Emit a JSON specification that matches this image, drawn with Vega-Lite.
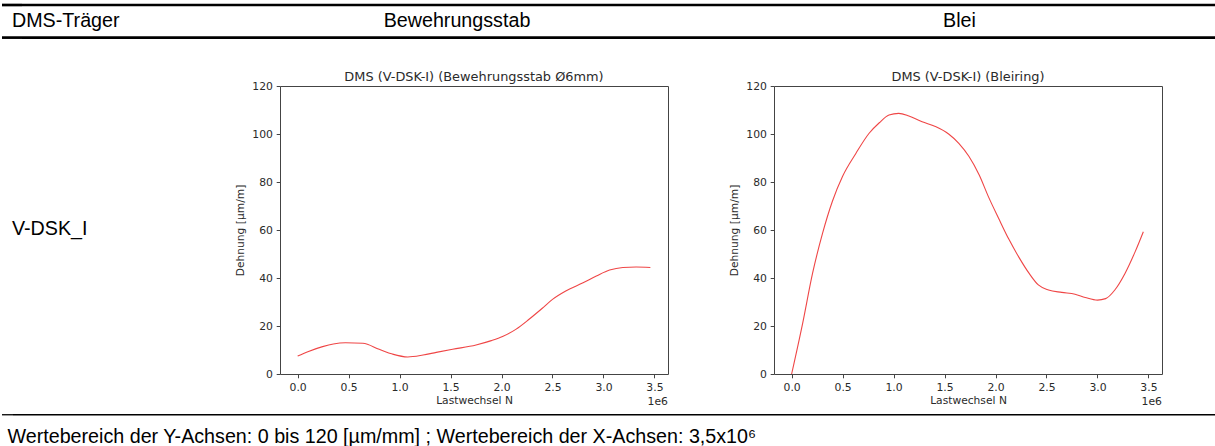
{
  "$schema": "https://vega.github.io/schema/vega-lite/v6.json",
  "padding": {"top": 3, "left": 0, "right": 0, "bottom": 0},
  "background": "white",
  "config": {
    "view": {"stroke": null},
    "axis": {"grid": false, "domain": false, "labelFont": "DejaVu Sans", "titleFont": "DejaVu Sans", "labelFontSize": 10.8, "titleFontSize": 10.7, "titleFontWeight": "normal", "labelColor": "#2a2a2a", "titleColor": "#2a2a2a", "tickColor": "#444444", "tickSize": 3.8, "labelPadding": 3.8, "labelFlush": false, "labelOverlap": false},
    "text": {"font": "Liberation Sans", "fontSize": 19.7, "color": "black"},
    "rule": {"color": "black"}
  },
  "datasets": {
    "linien": [{"linie": "oben"}, {"linie": "unten"}],
    "fusslinie": [{"linie": "oben"}],
    "bewehrung": [
      {"N": 0, "Dehnung": 7.5}, {"N": 100000, "Dehnung": 9.3}, {"N": 245000, "Dehnung": 11.4}, {"N": 350000, "Dehnung": 12.5},
      {"N": 470000, "Dehnung": 13.0}, {"N": 640000, "Dehnung": 12.8}, {"N": 800000, "Dehnung": 10.3}, {"N": 930000, "Dehnung": 8.3},
      {"N": 1080000, "Dehnung": 7.1}, {"N": 1230000, "Dehnung": 7.9}, {"N": 1360000, "Dehnung": 9.0}, {"N": 1520000, "Dehnung": 10.3},
      {"N": 1750000, "Dehnung": 12.1}, {"N": 1900000, "Dehnung": 13.9}, {"N": 2010000, "Dehnung": 15.6}, {"N": 2140000, "Dehnung": 18.6},
      {"N": 2270000, "Dehnung": 22.8}, {"N": 2400000, "Dehnung": 27.4}, {"N": 2500000, "Dehnung": 31.1}, {"N": 2630000, "Dehnung": 34.6},
      {"N": 2800000, "Dehnung": 38.0}, {"N": 2930000, "Dehnung": 40.8}, {"N": 3060000, "Dehnung": 43.3}, {"N": 3190000, "Dehnung": 44.4},
      {"N": 3320000, "Dehnung": 44.6}, {"N": 3460000, "Dehnung": 44.4}
    ],
    "blei": [
      {"N": 0, "Dehnung": 0}, {"N": 108000, "Dehnung": 21.1}, {"N": 205000, "Dehnung": 41.9}, {"N": 303000, "Dehnung": 58.6},
      {"N": 400000, "Dehnung": 72.0}, {"N": 500000, "Dehnung": 82.4}, {"N": 630000, "Dehnung": 91.9}, {"N": 760000, "Dehnung": 100.3},
      {"N": 860000, "Dehnung": 104.7}, {"N": 955000, "Dehnung": 107.9}, {"N": 1050000, "Dehnung": 108.6}, {"N": 1150000, "Dehnung": 107.5},
      {"N": 1280000, "Dehnung": 105.1}, {"N": 1410000, "Dehnung": 103.1}, {"N": 1540000, "Dehnung": 100.0}, {"N": 1640000, "Dehnung": 96.1},
      {"N": 1740000, "Dehnung": 90.6}, {"N": 1840000, "Dehnung": 82.9}, {"N": 1930000, "Dehnung": 73.9}, {"N": 2030000, "Dehnung": 64.9},
      {"N": 2130000, "Dehnung": 56.2}, {"N": 2230000, "Dehnung": 48.6}, {"N": 2330000, "Dehnung": 41.9}, {"N": 2420000, "Dehnung": 37.1},
      {"N": 2520000, "Dehnung": 35.0}, {"N": 2650000, "Dehnung": 34.0}, {"N": 2780000, "Dehnung": 33.2}, {"N": 2880000, "Dehnung": 31.9},
      {"N": 3000000, "Dehnung": 30.8}, {"N": 3080000, "Dehnung": 31.4}, {"N": 3170000, "Dehnung": 35.0}, {"N": 3270000, "Dehnung": 41.9},
      {"N": 3370000, "Dehnung": 51.0}, {"N": 3450000, "Dehnung": 59.3}
    ]
  },
  "spacing": 31,
  "vconcat": [
    {
      "spacing": 0,
      "bounds": "flush",
      "hconcat": [
        {"width": 20, "height": 32.6, "layer": [
          {"data": {"name": "linien"}, "mark": {"type": "rule", "strokeWidth": 2.7}, "encoding": {"y": {"field": "linie", "type": "nominal", "scale": {"type": "point", "padding": 0, "domain": ["oben", "unten"]}, "axis": null}}},
          {"data": {"values": [{"spalte": "DMS-Träger"}]}, "mark": {"type": "text", "align": "left"}, "encoding": {"text": {"field": "spalte"}}}
        ]},
        {"width": 870, "height": 32.6, "layer": [
          {"data": {"name": "linien"}, "mark": {"type": "rule", "strokeWidth": 2.7}, "encoding": {"y": {"field": "linie", "type": "nominal", "scale": {"type": "point", "padding": 0, "domain": ["oben", "unten"]}, "axis": null}}},
          {"data": {"values": [{"spalte": "Bewehrungsstab"}]}, "mark": {"type": "text"}, "encoding": {"text": {"field": "spalte"}}}
        ]},
        {"width": 135, "height": 32.6, "layer": [
          {"data": {"name": "linien"}, "mark": {"type": "rule", "strokeWidth": 2.7}, "encoding": {"y": {"field": "linie", "type": "nominal", "scale": {"type": "point", "padding": 0, "domain": ["oben", "unten"]}, "axis": null}}},
          {"data": {"values": [{"spalte": "Blei"}]}, "mark": {"type": "text"}, "encoding": {"text": {"field": "spalte"}}}
        ]},
        {"width": 190, "height": 32.6, "layer": [
          {"data": {"name": "linien"}, "mark": {"type": "rule", "strokeWidth": 2.7}, "encoding": {"y": {"field": "linie", "type": "nominal", "scale": {"type": "point", "padding": 0, "domain": ["oben", "unten"]}, "axis": null}}}
        ]}
      ]
    },
    {
      "spacing": 5.75,
      "vconcat": [
        {
          "spacing": 106,
          "bounds": "flush",
          "hconcat": [
            {"width": 20, "height": 285, "data": {"values": [{"traeger": "V-DSK_I"}]}, "mark": {"type": "text", "align": "left"}, "encoding": {"text": {"field": "traeger"}}},
            {"width": 46, "height": 285, "data": {"values": []}, "mark": "point"},
            {
              "width": 388, "height": 288,
              "view": {"stroke": "#444444", "strokeWidth": 1},
              "title": {"text": "DMS (V-DSK-I) (Bewehrungsstab Ø6mm)", "font": "DejaVu Sans", "fontSize": 12.9, "fontWeight": "normal", "color": "#2a2a2a", "offset": -13.5, "baseline": "alphabetic", "anchor": "middle"},
              "layer": [
                {
                  "data": {"name": "bewehrung"},
                  "mark": {"type": "line", "color": "#ef4646", "strokeWidth": 1.1, "interpolate": "monotone"},
                  "encoding": {
                    "x": {"field": "N", "type": "quantitative", "scale": {"domain": [-173000, 3633000], "nice": false, "zero": false}, "axis": {"title": "Lastwechsel N", "values": [0, 500000, 1000000, 1500000, 2000000, 2500000, 3000000, 3500000], "labelExpr": "format(datum.value / 1000000, '.1f')", "titlePadding": 3.5}},
                    "y": {"field": "Dehnung", "type": "quantitative", "scale": {"domain": [0, 120], "nice": false}, "axis": {"title": "Dehnung [µm/m]", "values": [0, 20, 40, 60, 80, 100, 120], "titlePadding": 6.5}}
                  }
                },
                {
                  "data": {"values": [{"faktor": "1e6"}]},
                  "mark": {"type": "text", "font": "DejaVu Sans", "fontSize": 10.8, "color": "#2a2a2a", "align": "right", "baseline": "top", "dy": 22},
                  "encoding": {"x": {"value": "width"}, "y": {"value": "height"}, "text": {"field": "faktor"}}
                }
              ]
            },
            {
              "width": 388, "height": 288,
              "view": {"stroke": "#444444", "strokeWidth": 1},
              "title": {"text": "DMS (V-DSK-I) (Bleiring)", "font": "DejaVu Sans", "fontSize": 12.9, "fontWeight": "normal", "color": "#2a2a2a", "offset": -13.5, "baseline": "alphabetic", "anchor": "middle"},
              "layer": [
                {
                  "data": {"name": "blei"},
                  "mark": {"type": "line", "color": "#ef4646", "strokeWidth": 1.1, "interpolate": "monotone"},
                  "encoding": {
                    "x": {"field": "N", "type": "quantitative", "scale": {"domain": [-173000, 3633000], "nice": false, "zero": false}, "axis": {"title": "Lastwechsel N", "values": [0, 500000, 1000000, 1500000, 2000000, 2500000, 3000000, 3500000], "labelExpr": "format(datum.value / 1000000, '.1f')", "titlePadding": 3.5}},
                    "y": {"field": "Dehnung", "type": "quantitative", "scale": {"domain": [0, 120], "nice": false}, "axis": {"title": "Dehnung [µm/m]", "values": [0, 20, 40, 60, 80, 100, 120], "titlePadding": 6.5}}
                  }
                },
                {
                  "data": {"values": [{"faktor": "1e6"}]},
                  "mark": {"type": "text", "font": "DejaVu Sans", "fontSize": 10.8, "color": "#2a2a2a", "align": "right", "baseline": "top", "dy": 22},
                  "encoding": {"x": {"value": "width"}, "y": {"value": "height"}, "text": {"field": "faktor"}}
                }
              ]
            }
          ]
        },
        {
          "spacing": 0,
          "bounds": "flush",
          "hconcat": [
            {"width": 11, "height": 28.7, "layer": [
              {"data": {"name": "fusslinie"}, "mark": {"type": "rule", "strokeWidth": 1.3}, "encoding": {"y": {"field": "linie", "type": "nominal", "scale": {"type": "point", "padding": 0, "domain": ["oben", "unten"]}, "axis": null}}},
              {"data": {"values": [{"hinweis": "Wertebereich der Y-Achsen: 0 bis 120 [µm/mm] ; Wertebereich der X-Achsen: 3,5x10⁶"}]}, "mark": {"type": "text", "align": "left", "baseline": "alphabetic"}, "encoding": {"text": {"field": "hinweis"}, "y": {"value": "height"}}}
            ]},
            {"width": 1204, "height": 28.7, "layer": [
              {"data": {"name": "fusslinie"}, "mark": {"type": "rule", "strokeWidth": 1.3}, "encoding": {"y": {"field": "linie", "type": "nominal", "scale": {"type": "point", "padding": 0, "domain": ["oben", "unten"]}, "axis": null}}}
            ]}
          ]
        }
      ]
    }
  ]
}
